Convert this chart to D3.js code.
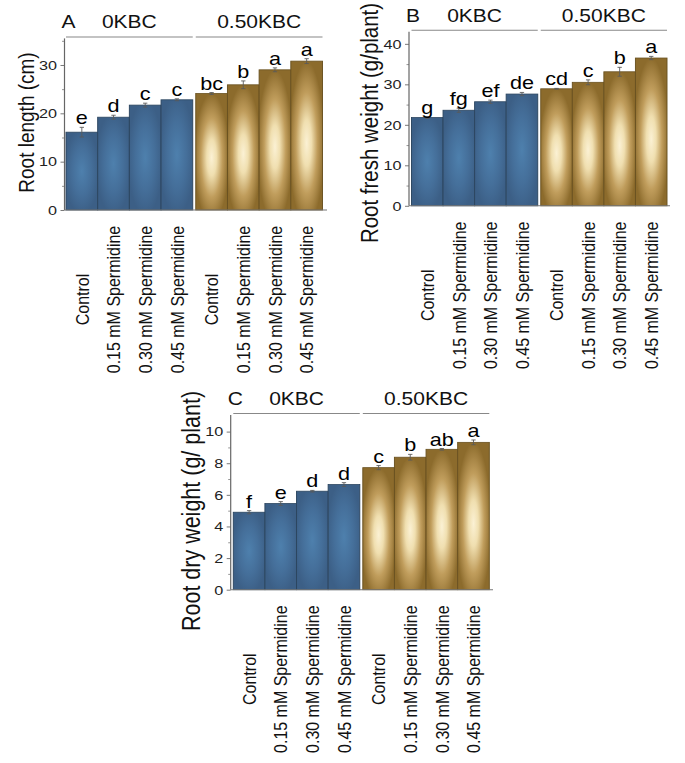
<!DOCTYPE html>
<html><head><meta charset="utf-8">
<script src="https://cdn.jsdelivr.net/npm/d3@7"></script>
<style>body{margin:0;background:#fff}svg{display:block}text{font-family:"Liberation Sans",Arial,sans-serif}</style>
</head><body>
<script>
// ---- data ----
const groups = ["0KBC", "0.50KBC"];
const treatments = ["Control", "0.15 mM Spermidine", "0.30 mM Spermidine", "0.45 mM Spermidine"];

const rootLength = [16.1, 19.2, 21.7, 22.8, 24.1, 25.9, 29.0, 30.8];
const rootLengthErr = [1.0, 0.4, 0.4, 0.2, 0.2, 0.8, 0.4, 0.5];
const rootLengthLetters = ["e", "d", "c", "c", "bc", "b", "a", "a"];

const rootFresh = [21.8, 23.6, 25.7, 27.6, 28.9, 30.5, 33.1, 36.5];
const rootFreshErr = [0.2, 0.5, 0.4, 0.4, 0.1, 0.6, 1.1, 0.4];
const rootFreshLetters = ["g", "fg", "ef", "de", "cd", "c", "b", "a"];

const rootDry = [4.9, 5.45, 6.23, 6.65, 7.72, 8.38, 8.88, 9.32];
const rootDryErr = [0.1, 0.12, 0.05, 0.12, 0.13, 0.18, 0.05, 0.15];
const rootDryLetters = ["f", "e", "d", "d", "c", "b", "ab", "a"];

const ticksA = [0, 10, 20, 30], minorA = [5, 15, 25, 35];
const ticksB = [0, 10, 20, 30, 40], minorB = [5, 15, 25, 35];
const ticksC = [0, 2, 4, 6, 8, 10], minorC = [1, 3, 5, 7, 9];

// ---- layout ----
const S = 1.2; // horizontal stretch of the original figure
const W = 685, H = 763;
const svg = d3.select("body").append("svg")
  .attr("width", W).attr("height", H)
  .attr("viewBox", `0 0 ${W / S} ${H}`)
  .attr("preserveAspectRatio", "none");

const defs = svg.append("defs");
const gb = defs.append("radialGradient").attr("id", "gBlue").attr("cx", 0.5).attr("cy", 0.5).attr("r", 0.55);
[[0, "#4e80ad"], [0.55, "#456f9a"], [1, "#3c5f86"]].forEach(([o, c]) => gb.append("stop").attr("offset", o).attr("stop-color", c));
const gg = defs.append("radialGradient").attr("id", "gGold").attr("cx", 0.5).attr("cy", 0.55).attr("r", 0.55);
[[0, "#fbf1d4"], [0.28, "#f0dfb0"], [0.62, "#c09d5c"], [1, "#8c6b2c"]].forEach(([o, c]) => gg.append("stop").attr("offset", o).attr("stop-color", c));

const panels = [
  { letter: "A", values: rootLength, errs: rootLengthErr, letters: rootLengthLetters, title: "Root length (cm)", titleSize: 19,
    axisX: 64.5, barStart: 66, barEnd: 322.5, axisEnd: 327, y0: 210, yTop: 38.4, ymax: 35.5, major: ticksA, minor: minorA, titleX: 34, titleY: 122.5 },
  { letter: "B", values: rootFresh, errs: rootFreshErr, letters: rootFreshLetters, title: "Root fresh weight (g/plant)", titleSize: 20.5,
    axisX: 409, barStart: 411.5, barEnd: 667, axisEnd: 670, y0: 205.8, yTop: 31.7, ymax: 43, major: ticksB, minor: minorB, titleX: 378, titleY: 123 },
  { letter: "C", values: rootDry, errs: rootDryErr, letters: rootDryLetters, title: "Root dry weight (g/ plant)", titleSize: 21.5,
    axisX: 230.7, barStart: 233.3, barEnd: 489.3, axisEnd: 493, y0: 589.7, yTop: 415, ymax: 11.05, major: ticksC, minor: minorC, titleX: 200, titleY: 511 }
];

panels.forEach(p => {
  const g = svg.append("g");
  const X = v => v / S;
  const y = d3.scaleLinear().domain([0, p.ymax]).range([p.y0, p.yTop]);
  const x0 = d3.scaleBand().domain(groups).range([X(p.barStart), X(p.barEnd)]).paddingInner(6 / 256);
  const x1 = d3.scaleBand().domain(treatments).range([0, x0.bandwidth()]);

  const rows = [];
  groups.forEach((gr, gi) => treatments.forEach((t, ti) => {
    const i = gi * treatments.length + ti;
    rows.push({ group: gr, gi, t, v: p.values[i], e: p.errs[i], l: p.letters[i] });
  }));
  const bx = d => x0(d.group) + x1(d.t);
  const bw = x1.bandwidth();

  // bars
  g.selectAll("rect.bar").data(rows).join("rect")
    .attr("x", bx).attr("width", bw)
    .attr("y", d => y(d.v)).attr("height", d => y(0) - y(d.v))
    .attr("fill", d => d.gi === 0 ? "url(#gBlue)" : "url(#gGold)")
    .attr("stroke", d => d.gi === 0 ? "#2c4660" : "#6a5221")
    .attr("stroke-width", 0.8);

  // error bars
  const eb = g.selectAll("g.err").data(rows).join("g").attr("stroke", "#5a5a5a").attr("stroke-width", 0.8);
  eb.append("line").attr("x1", d => bx(d) + bw / 2).attr("x2", d => bx(d) + bw / 2)
    .attr("y1", d => y(d.v - d.e)).attr("y2", d => y(d.v + d.e));
  eb.append("line").attr("x1", d => bx(d) + bw / 2 - 1.8).attr("x2", d => bx(d) + bw / 2 + 1.8)
    .attr("y1", d => y(d.v + d.e)).attr("y2", d => y(d.v + d.e));
  eb.append("line").attr("x1", d => bx(d) + bw / 2 - 1.8).attr("x2", d => bx(d) + bw / 2 + 1.8)
    .attr("y1", d => y(d.v - d.e)).attr("y2", d => y(d.v - d.e));

  // significance letters
  g.selectAll("text.sig").data(rows).join("text")
    .attr("x", d => bx(d) + bw / 2).attr("y", d => y(d.v + d.e) - 3)
    .attr("text-anchor", "middle").attr("font-size", 18).attr("fill", "#000")
    .text(d => d.l);

  // y axis
  const ax = g.append("g").attr("transform", `translate(${X(p.axisX)},0)`)
    .call(d3.axisLeft(y).tickValues(p.major).tickSize(4 / S).tickPadding(3.5 / S).tickFormat(d3.format("d")));
  ax.select(".domain").remove();
  ax.selectAll(".tick line").attr("stroke", "#666").attr("stroke-width", 0.8);
  ax.selectAll(".tick text").attr("font-size", 13.5).attr("fill", "#222").attr("font-family", '"Liberation Sans",Arial,sans-serif');
  const axm = g.append("g").attr("transform", `translate(${X(p.axisX)},0)`)
    .call(d3.axisLeft(y).tickValues(p.minor).tickSize(2.5 / S).tickFormat(""));
  axm.select(".domain").remove();
  axm.selectAll(".tick line").attr("stroke", "#777").attr("stroke-width", 0.7);
  g.append("line").attr("x1", X(p.axisX)).attr("x2", X(p.axisX)).attr("y1", y(0)).attr("y2", y(p.ymax))
    .attr("stroke", "#666").attr("stroke-width", 1);
  // x axis line
  g.append("line").attr("x1", X(p.axisX)).attr("x2", X(p.axisEnd)).attr("y1", y(0)).attr("y2", y(0))
    .attr("stroke", "#777").attr("stroke-width", 1);

  // x labels
  g.selectAll("text.xl").data(rows).join("text")
    .attr("transform", d => `translate(${bx(d) + bw / 2},${p.y0 + 89.5}) rotate(-90)`)
    .attr("text-anchor", "middle").attr("dy", "0.35em").attr("font-size", 16).attr("fill", "#111")
    .text(d => d.t);

  // group brackets and labels
  const by = p.yTop - 1.5;
  groups.forEach(gr => {
    g.append("line").attr("x1", x0(gr)).attr("x2", x0(gr) + x0.bandwidth()).attr("y1", by).attr("y2", by)
      .attr("stroke", "#888").attr("stroke-width", 1);
    g.append("text").attr("x", x0(gr) + x0.bandwidth() / 2).attr("y", by - 8.5)
      .attr("text-anchor", "middle").attr("font-size", 17.5).attr("fill", "#111").text(gr);
  });
  g.append("text").attr("x", X(p.axisX - 3)).attr("y", by - 8.5).attr("font-size", 17.5).attr("fill", "#111").text(p.letter);

  // y title
  g.append("text").attr("transform", `translate(${X(p.titleX)},${p.titleY}) rotate(-90)`)
    .attr("text-anchor", "middle").attr("font-size", p.titleSize).attr("fill", "#111").text(p.title);
});
</script>
</body></html>
